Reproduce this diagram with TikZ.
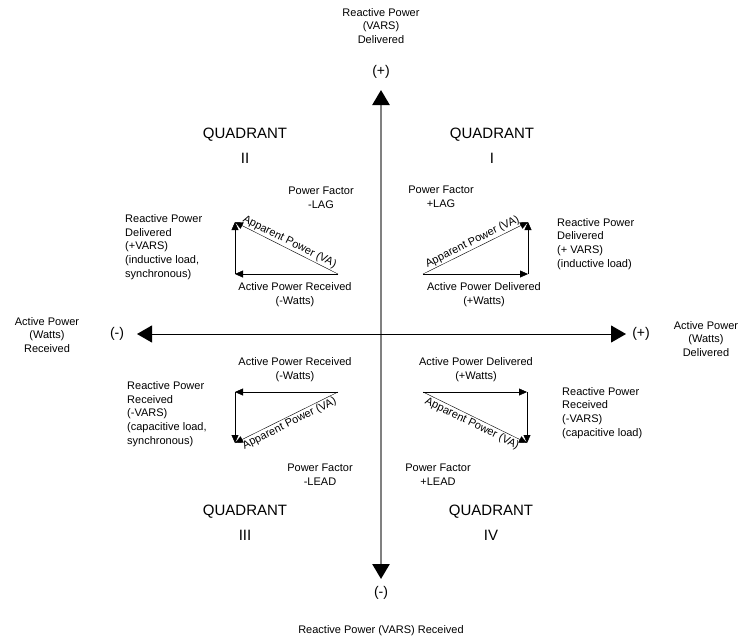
\documentclass[tikz,border=0pt]{standalone}
\usepackage{fontspec}
\setmainfont{Liberation Sans}
\usetikzlibrary{arrows.meta}
\usetikzlibrary{positioning}

\tikzset{
	lbl/.style={font=\fontsize{11}{13.8}\selectfont, align=center, inner sep=0pt},
	lbll/.style={lbl, align=left},
	quad/.style={font=\fontsize{15}{25}\selectfont, align=center, inner sep=0pt},
	sgn/.style={font=\fontsize{14}{16}\selectfont, inner sep=0pt},
	vec/.style={-{Triangle[length=8pt,width=7pt]}},
	va/.style={font=\fontsize{11}{13}\selectfont, midway, sloped, inner sep=1.5pt}
}

\begin{document}
\begin{tikzpicture}[x=1pt,y=-1pt]
			\useasboundingbox (0,0) rectangle (740,641);
			%axes
			\coordinate (ytop) at (381,90);
			\coordinate (ybot) at (381,579);
			\coordinate (xleft) at (137,334);
			\coordinate (xright) at (626,334);
			\draw[gray, line width=2.5pt, {Triangle[length=15pt,width=17pt,color=black]}-{Triangle[length=15pt,width=17pt,color=black]}] (ytop) -- (ybot);
			\draw[black, line width=1pt, {Triangle[length=15pt,width=17pt]}-{Triangle[length=15pt,width=17pt]}] (xleft) -- (xright);
			\node[sgn] (yplus) at (381,72) {(+)};
			\node[sgn] (yminus) at (381,593) {(-)};
			\node[sgn] (xminus) at (117,334) {(-)};
			\node[sgn] (xplus) at (641,334) {(+)};
			\node[lbl] (vardel) at (381,26) {Reactive Power\\(VARS)\\Delivered};
			\node[lbl] (varrec) at (381,631) {Reactive Power (VARS) Received};
			\node[lbl] (wattrec) at (47,335) {Active Power\\(Watts)\\Received};
			\node[lbl] (wattdel) at (706,339) {Active Power\\(Watts)\\Delivered};
			
			% quadrant titles
			\node[quad] (quadI) at (492,146) {QUADRANT\\I};
			\node[quad] (quadII) at (245,146) {QUADRANT\\II};
			\node[quad] (quadIII) at (245,523) {QUADRANT\\III};
			\node[quad] (quadIV) at (491,523) {QUADRANT\\IV};
			
			% quadrant I
			\coordinate (a1) at (423,274);
			\coordinate (b1) at (528,274);
			\coordinate (c1) at (528,222);
			\draw[vec] (a1) -- (b1);
			\draw[vec] (b1) -- (c1);
			\draw[vec] (a1) -- (c1) node[va, above] {Apparent Power (VA)};
			\node[lbl] (pfI) at (441,197) {Power Factor\\+LAG};
			\node[lbl] (apI) at (484,295) {Active Power Delivered\\(+Watts)};
			\node[lbll, anchor=west] (rpI) at (557,244) {Reactive Power\\Delivered\\(+ VARS)\\(inductive load)};
			
			% quadrant II
			\coordinate (a2) at (338,274);
			\coordinate (b2) at (235,274);
			\coordinate (c2) at (235,222);
			\draw[vec] (a2) -- (b2);
			\draw[vec] (b2) -- (c2);
			\draw[vec] (a2) -- (c2) node[va, above] {Apparent Power (VA)};
			\node[lbl] (pfII) at (321,198) {Power Factor\\-LAG};
			\node[lbl] (apII) at (295,295) {Active Power Received\\(-Watts)};
			\node[lbll, anchor=west] (rpII) at (125,247) {Reactive Power\\Delivered\\(+VARS)\\(inductive load,\\synchronous)};
			
			% quadrant III
			\coordinate (a3) at (338,392);
			\coordinate (b3) at (235,392);
			\coordinate (c3) at (235,443);
			\draw[vec] (a3) -- (b3);
			\draw[vec] (b3) -- (c3);
			\draw[vec] (a3) -- (c3) node[va, below] {Apparent Power (VA)};
			\node[lbl] (apIII) at (295,370) {Active Power Received\\(-Watts)};
			\node[lbl] (pfIII) at (320,475) {Power Factor\\-LEAD};
			\node[lbll, anchor=west] (rpIII) at (127,414) {Reactive Power\\Received\\(-VARS)\\(capacitive load,\\synchronous)};
			
			% quadrant IV
			\coordinate (a4) at (423,392);
			\coordinate (b4) at (527,392);
			\coordinate (c4) at (527,443);
			\draw[vec] (a4) -- (b4);
			\draw[vec] (b4) -- (c4);
			\draw[vec] (a4) -- (c4) node[va, below] {Apparent Power (VA)};
			\node[lbl] (apIV) at (476,370) {Active Power Delivered\\(+Watts)};
			\node[lbl] (pfIV) at (438,475) {Power Factor\\+LEAD};
			\node[lbll, anchor=west] (rpIV) at (562,413) {Reactive Power\\Received\\(-VARS)\\(capacitive load)};
			
		\end{tikzpicture}
\end{document}
